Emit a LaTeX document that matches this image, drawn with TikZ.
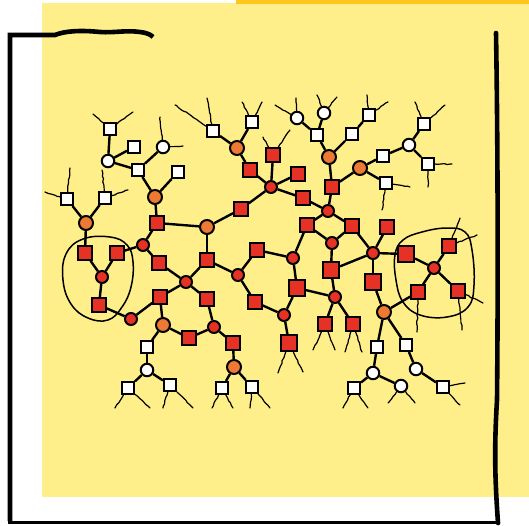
\documentclass[tikz,border=0pt]{standalone}
\usetikzlibrary{calc,decorations.pathmorphing}
\definecolor{paper}{RGB}{255,239,138}
\definecolor{tape}{RGB}{255,198,30}
\definecolor{hot}{RGB}{230,50,36}
\definecolor{warm}{RGB}{236,122,52}
\pgfmathsetseed{7}

\begin{document}
\begin{tikzpicture}[
  x=1pt,y=-1pt,
  link/.style={line width=2.4pt},
  leg/.style={line width=1.2pt,line cap=round,decorate,decoration={random steps,segment length=3pt,amplitude=0.5pt}},
  rsq/.style={draw,line width=2pt,fill=hot,minimum size=13.5pt,inner sep=0pt},
  wsq/.style={rsq,fill=white,minimum size=12pt},
  rdot/.style={circle,draw,line width=2pt,fill=hot,minimum size=12pt,inner sep=0pt},
  odot/.style={rdot,fill=warm,minimum size=14pt},
  wdot/.style={rdot,fill=white,minimum size=12.5pt},
  big/.style={minimum size=16pt},
  ring/.style={line width=1.5pt},
  rim/.style={line width=4.6pt,line join=miter},
]
  \useasboundingbox (0,0) rectangle (529,525);
  \fill[paper] (42,3) rectangle (529,497);
  \fill[tape] (236,0) rectangle (529,3.5);

  \draw[rim] (10,521) -- (10,35) -- (55,35) .. controls (65,31) and (80,30) .. (100,32)
    .. controls (115,33) and (125,30) .. (140,32) .. controls (148,33) and (151,35) .. (153,37);
  \draw[rim,line cap=round] (496,33) .. controls (498,150) and (498,300) .. (497,400)
    .. controls (494,450) and (495,480) .. (498,523);
  \draw[line width=3pt] (8,522) -- (498,522);

  % red squares
  \node[rsq] (rA) at (85,253) {};
  \node[rsq] (rB) at (117,253) {};
  \node[rsq] (rC) at (99,305) {};
  \node[rsq] (r1) at (157,223) {};
  \node[rsq] (r2) at (241,209) {};
  \node[rsq] (r3) at (250,170) {};
  \node[rsq] (r4) at (273,155) {};
  \node[rsq] (r5) at (298,174) {};
  \node[rsq] (r6) at (303,198) {};
  \node[rsq] (r7) at (332,187) {};
  \node[rsq] (r8) at (159,263) {};
  \node[rsq] (r9) at (207,260) {};
  \node[rsq] (r10) at (257,250) {};
  \node[rsq] (r11) at (307,225) {};
  \node[rsq] (r12) at (352,226) {};
  \node[rsq] (r13) at (387,227) {};
  \node[rsq,big] (r14) at (331,270) {};
  \node[rsq,big] (r15) at (373,282) {};
  \node[rsq] (r16) at (160,297) {};
  \node[rsq] (r17) at (207,299) {};
  \node[rsq] (r18) at (255,302) {};
  \node[rsq,big] (r19) at (297,288) {};
  \node[rsq] (r20) at (189,338) {};
  \node[rsq] (r21) at (233,343) {};
  \node[rsq,big] (r22) at (289,343) {};
  \node[rsq] (r23) at (325,324) {};
  \node[rsq] (r24) at (353,324) {};
  \node[rsq,big] (rD) at (406,254) {};
  \node[rsq] (rE) at (449,246) {};
  \node[rsq] (rF) at (418,292) {};
  \node[rsq] (rG) at (458,291) {};

  % red dots
  \node[rdot] (cA) at (102,277) {};
  \node[rdot] (c1) at (143,245) {};
  \node[rdot] (c2) at (271,187) {};
  \node[rdot] (c3) at (328,211) {};
  \node[rdot] (c4) at (186,282) {};
  \node[rdot] (c5) at (238,275) {};
  \node[rdot] (c6) at (293,258) {};
  \node[rdot] (c7) at (332,243) {};
  \node[rdot] (c8) at (373,253) {};
  \node[rdot] (c9) at (131,319) {};
  \node[rdot] (c10) at (214,327) {};
  \node[rdot] (c11) at (284,315) {};
  \node[rdot] (c12) at (335,297) {};
  \node[rdot] (cB) at (434,268) {};

  % orange dots
  \node[odot] (o1) at (86,223) {};
  \node[odot] (o2) at (155,197) {};
  \node[odot] (o3) at (207,227) {};
  \node[odot] (o4) at (237,148) {};
  \node[odot] (o5) at (329,157) {};
  \node[odot] (o6) at (360,168) {};
  \node[odot] (o7) at (163,325) {};
  \node[odot] (o8) at (234,367) {};
  \node[odot] (o9) at (384,312) {};

  % white squares and dots
  \node[wsq] (w1) at (110,129) {};
  \node[wsq] (w2) at (134,147) {};
  \node[wsq] (w3) at (138,170) {};
  \node[wsq] (w4) at (178,172) {};
  \node[wsq] (w5) at (67,199) {};
  \node[wsq] (w6) at (105,198) {};
  \node[wsq] (w7) at (213,131) {};
  \node[wsq] (w8) at (252,122) {};
  \node[wsq] (w9) at (317,135) {};
  \node[wsq] (w10) at (352,134) {};
  \node[wsq] (w11) at (369,115) {};
  \node[wsq] (w12) at (383,156) {};
  \node[wsq] (w13) at (424,124) {};
  \node[wsq] (w14) at (428,164) {};
  \node[wsq] (w15) at (386,183) {};
  \node[wsq] (w16) at (147,347) {};
  \node[wsq] (w17) at (128,388) {};
  \node[wsq] (w18) at (170,385) {};
  \node[wsq] (w19) at (222,388) {};
  \node[wsq] (w20) at (252,387) {};
  \node[wsq] (w21) at (377,347) {};
  \node[wsq] (w22) at (406,345) {};
  \node[wsq] (w23) at (354,388) {};
  \node[wsq] (w24) at (443,387) {};
  \node[wdot] (d1) at (108,161) {};
  \node[wdot] (d2) at (163,147) {};
  \node[wdot] (d3) at (297,118) {};
  \node[wdot] (d4) at (324,113) {};
  \node[wdot] (d5) at (409,145) {};
  \node[wdot] (d6) at (147,370) {};
  \node[wdot] (d7) at (373,373) {};
  \node[wdot] (d8) at (416,369) {};
  \node[wdot] (d9) at (401,386) {};

  \foreach \a/\b in {o1/w5,o1/w6,o1/rA,rA/cA,rB/cA,cA/rC,rC/c9,c9/r16,rB/c1,
      w1/d1,w2/d1,d1/w3,d2/w3,w3/o2,w4/o2,o2/r1,r1/c1,r1/o3,c1/r8,r8/c4,
      o3/r2,o3/r9,r9/c4,c4/r16,c4/r17,r9/c5,c5/r10,c5/r18,r10/c6,r2/c2,
      w7/o4,w8/o4,o4/r3,r3/c2,r4/c2,r5/c2,r6/c2,r6/c3,c3/r7,c3/r11,c3/r12,
      r11/c7,r12/c7,c7/r14,r11/c6,c6/r19,r14/c12,r19/c12,c12/r23,c12/r24,
      r7/o5,o5/w9,o5/w10,w9/d3,w9/d4,w10/w11,r7/o6,o6/w12,o6/w15,w12/d5,d5/w13,d5/w14,
      r12/c8,r13/c8,c8/r14,c8/r15,c8/rD,r15/o9,o9/rF,rD/cB,rE/cB,cB/rF,cB/rG,
      r16/o7,o7/r20,r20/c10,c10/r17,c10/r21,r21/o8,o8/w19,o8/w20,o7/w16,w16/d6,d6/w17,d6/w18,
      r18/c11,c11/r19,c11/r22,o9/w21,o9/w22,w21/d7,d7/w23,d7/d9,w22/d8,d8/w24}
    \draw[link] (\a) -- (\b);

  \foreach \n/\dx/\dy [count=\i] in {w1/-17/-15,w1/23/-17,d2/-3/-30,d2/20/-1,w5/3/-31,w5/-22/-7,
      w6/-3/-28,w6/23/-8,w7/-6/-33,w7/-38/-26,w8/-10/-20,w8/10/-20,r4/-10/-18,r4/17/-25,
      d3/-1/-20,d3/-22/-13,d4/-7/-18,d4/13/-16,w11/-2/-20,w11/19/-13,w13/-9/-22,w13/21/-19,
      w14/24/0,w14/0/23,w15/24/4,w15/-4/27,rE/11/-28,rE/28/-11,rF/-1/40,rG/4/39,rG/25/12,
      r22/-11/30,r22/14/29,r23/-12/26,r23/10/26,r24/-8/28,r24/9/28,
      w17/-13/20,w17/22/20,w18/-7/23,w18/23/23,w19/-10/20,w19/11/20,w20/-2/21,w20/18/21,
      w23/-11/20,w23/14/20,d9/-13/17,d9/14/17,w24/22/-4,w24/17/18} {
    \coordinate (leg\i) at ($(\n)+(\dx,\dy)$);
    \draw[leg] (\n) -- (leg\i);
  }

  \draw[ring] plot[smooth cycle,tension=0.7] coordinates {(83,239) (110,237) (127,245) (133,262)
    (131,287) (122,307) (108,320) (88,318) (71,304) (63,280) (66,254)};
  \draw[ring] plot[smooth cycle,tension=0.7] coordinates {(395,255) (403,240) (422,232) (447,228)
    (465,232) (472,250) (474,285) (468,307) (447,317) (420,315) (403,302) (396,280)};
\end{tikzpicture}
\end{document}
